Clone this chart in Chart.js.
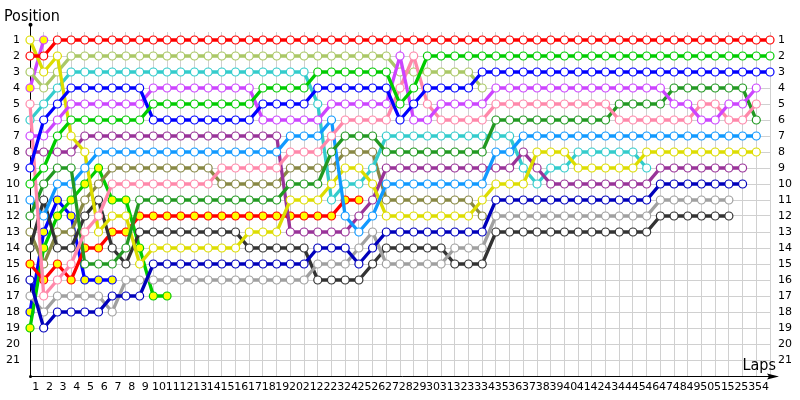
<!DOCTYPE html>
<html><head><meta charset="utf-8">
<script src="https://cdn.jsdelivr.net/npm/chart.js@4"></script>
<style>html,body{margin:0;padding:0;background:#fff}canvas{display:block}</style>
</head><body>
<canvas id="c" width="800" height="400"></canvas>
<script>
// ---- DATA ----
const lapLabels = ['', '1','2','3','4','5','6','7','8','9','10','11','12','13','14','15','16','17','18','19','20','21','22','23','24','25','26','27','28','29','30','31','32','33','34','35','36','37','38','39','40','41','42','43','44','45','46','47','48','49','50','51','52','53','54'];
const posTicks = [1,2,3,4,5,6,7,8,9,10,11,12,13,14,15,16,17,18,19,20,21];

const pRed      = [2,2,1,1,1,1,1,1,1,1, 1,1,1,1,1,1,1,1,1,1, 1,1,1,1,1,1,1,1,1,1, 1,1,1,1,1,1,1,1,1,1, 1,1,1,1,1,1,1,1,1,1, 1,1,1,1,1];
const pGreen    = [10,9,7,6,6,6,6,6,6,5, 5,5,5,5,5,5,5,4,4,4, 4,3,3,3,3,3,3,5,4,2, 2,2,2,2,2,2,2,2,2,2, 2,2,2,2,2,2,2,2,2,2, 2,2,2,2,2];
const pBlue     = [9,6,5,4,4,4,4,4,4,6, 6,6,6,6,6,6,6,5,5,5, 5,4,4,4,4,4,4,6,5,4, 4,4,4,3,3,3,3,3,3,3, 3,3,3,3,3,3,3,3,3,3, 3,3,3,3,3];
const pPurple   = [7,7,6,5,5,5,5,5,5,4, 4,4,4,4,4,4,4,6,6,6, 6,6,5,5,5,5,5,2,6,6, 5,5,5,5,4,4,4,4,4,4, 4,4,4,4,4,4,4,5,5,6, 6,5,5,4];
const pPink     = [5,17,16,15,13,12,10,10,10,10, 10,10,10,10,9,9,9,9,9,8, 8,8,7,6,6,6,6,4,2,5, 6,6,6,6,5,5,5,5,5,5, 5,5,5,6,6,6,6,6,6,5, 5,6,6,5];
const pDkGreen  = [12,10,9,9,15,15,15,14,11,11, 11,11,11,11,11,11,11,11,11,10, 10,10,8,7,7,7,8,8,8,8, 8,8,8,8,6,6,6,6,6,6, 6,6,6,5,5,5,5,4,4,4, 4,4,4,6];
const pLtBlue   = [11,12,10,10,9,8,8,8,8,8, 8,8,8,8,8,8,8,8,8,7, 7,7,6,12,13,12,10,10,10,10, 10,10,10,10,8,8,7,7,7,7, 7,7,7,7,7,7,7,7,7,7, 7,7,7,7];
const pYellow   = [1,3,2,7,8,13,12,12,15,14, 14,14,14,14,14,14,13,13,13,11, 11,11,10,9,9,10,12,12,12,12, 12,12,12,11,10,10,10,8,8,8, 9,9,9,9,9,8,8,8,8,8, 8,8,8,8];
const pDkPurple = [8,8,8,8,7,7,7,7,7,7, 7,7,7,7,7,7,7,7,7,13, 13,13,13,13,12,11,9,9,9,9, 9,9,9,9,9,9,8,9,10,10, 10,10,10,10,10,10,9,9,9,9, 9,9,9];
const pNavy     = [16,19,18,18,18,18,17,17,17,15, 15,15,15,15,15,15,15,15,15,15, 15,14,14,14,15,14,13,13,13,13, 13,13,13,13,11,11,11,11,11,11, 11,11,11,11,11,11,10,10,10,10, 10,10,10];
const pGray     = [17,18,17,17,17,17,18,16,16,16, 16,16,16,16,16,16,16,16,16,16, 16,15,15,15,14,13,15,15,15,15, 15,14,14,14,12,12,12,12,12,12, 12,12,12,12,12,12,11,11,11,11, 11,11];
const pDkGray   = [14,11,14,14,12,11,14,15,13,13, 13,13,13,13,13,13,14,14,14,14, 14,16,16,16,16,15,14,14,14,14, 14,15,15,15,13,13,13,13,13,13, 13,13,13,13,13,13,12,12,12,12, 12,12];
const pCyan     = [6,5,4,3,3,3,3,3,3,3, 3,3,3,3,3,3,3,3,3,3, 3,5,11,10,10,9,7,7,7,7, 7,7,7,7,7,7,9,10,9,9, 8,8,8,8,8,9];
const pLtOlive  = [3,4,3,2,2,2,2,2,2,2, 2,2,2,2,2,2,2,2,2,2, 2,2,2,2,2,2,2,3,3,3, 3,3,3,4];
const pOlive    = [13,15,13,13,11,10,9,9,9,9, 9,9,9,9,10,10,10,10,10,9, 9,9,9,8,8,8,11,11,11,11, 11,11,11,12];
const pRed2     = [15,16,15,16,14,14,13,13,12,12, 12,12,12,12,12,12,12,12,12,12, 12,12,12,11,11];
const pGreen2   = [19,14,12,11,10,9,11,11,14,17,17];
const pBlue2    = [18,13,11,12,16,16,16];
const pPurple2  = [4,1];

// ---- STYLES ----
const series = [
  [pRed, '#ff0000', '#ffffff'],
  [pGreen, '#00cc00', '#ffffff'],
  [pBlue, '#0000ff', '#ffffff'],
  [pPurple, '#cc44ff', '#ffffff'],
  [pPink, '#ff88aa', '#ffffff'],
  [pDkGreen, '#229922', '#ffffff'],
  [pLtBlue, '#1199ff', '#ffffff'],
  [pYellow, '#dddd00', '#ffffff'],
  [pDkPurple, '#993399', '#ffffff'],
  [pNavy, '#0000bb', '#ffffff'],
  [pGray, '#a0a0a0', '#ffffff'],
  [pDkGray, '#333333', '#ffffff'],
  [pCyan, '#33cccc', '#ffffff'],
  [pLtOlive, '#aac866', '#ffffff'],
  [pOlive, '#888844', '#ffffff'],
  [pRed2, '#ff0000', '#ffff00'],
  [pGreen2, '#00cc00', '#ffff00'],
  [pBlue2, '#0000ff', '#ffff00'],
  [pPurple2, '#cc44ff', '#ffff00']
];

const datasets = series.map(([d, c, f]) => ({
  data: d,
  borderColor: c,
  backgroundColor: c,
  borderWidth: 3.3,
  pointRadius: 4,
  pointBorderWidth: 1.2,
  pointBorderColor: c,
  pointBackgroundColor: f,
  tension: 0,
  fill: false
}));

const FONT = "'DejaVu Sans', Verdana, sans-serif";

const axesPlugin = {
  id: 'axesDecor',
  beforeDatasetsDraw(chart) {
    const {ctx, scales} = chart;
    const x = scales.x, y = scales.y;
    const x0 = Math.round(x.getPixelForValue(0)) + 0.5;
    const xEnd = x.getPixelForValue(54);
    const yTop = y.getPixelForValue(0.05);
    const yBot = Math.round(y.getPixelForValue(22)) + 0.5;
    ctx.save();
    ctx.strokeStyle = '#000';
    ctx.fillStyle = '#000';
    ctx.lineWidth = 1;
    ctx.beginPath();
    ctx.moveTo(x0, yTop); ctx.lineTo(x0, yBot);
    ctx.lineTo(xEnd + 4, yBot);
    ctx.stroke();
    ctx.beginPath(); ctx.arc(x0, yTop, 2, 0, Math.PI * 2); ctx.fill();
    ctx.beginPath(); ctx.arc(x0, yBot, 1.5, 0, Math.PI * 2); ctx.fill();
    ctx.beginPath();
    ctx.moveTo(xEnd + 9, yBot);
    ctx.lineTo(xEnd - 3, yBot - 3);
    ctx.lineTo(xEnd - 1, yBot);
    ctx.lineTo(xEnd - 3, yBot + 3);
    ctx.closePath(); ctx.fill();
    ctx.restore();
  },
  afterDraw(chart) {
    const {ctx} = chart;
    ctx.save();
    ctx.fillStyle = '#000';
    ctx.font = "16px 'DejaVu Sans Condensed', 'DejaVu Sans', sans-serif";
    ctx.textBaseline = 'alphabetic';
    ctx.textAlign = 'left';
    ctx.fillText('Position', 4, 21);
    ctx.textAlign = 'right';
    ctx.fillText('Laps', 776, 370);
    ctx.restore();
  }
};

const yCommon = {
  type: 'linear',
  reverse: true,
  min: 0.5,
  max: 22,
  afterBuildTicks: (s) => { s.ticks = posTicks.map(v => ({value: v})); },
  border: {display: false},
  ticks: {color: '#000', font: {family: FONT, size: 11}, autoSkip: false}
};

new Chart(document.getElementById('c'), {
  type: 'line',
  data: {labels: lapLabels, datasets},
  options: {
    responsive: false,
    animation: false,
    events: [],
    layout: {padding: {top: 32, left: 0, right: 0, bottom: 0}},
    plugins: {legend: {display: false}, tooltip: {enabled: false}},
    scales: {
      x: {
        type: 'category',
        offset: false,
        grid: {color: '#d0d0d0', lineWidth: 1, drawTicks: false},
        border: {display: false},
        ticks: {color: '#000', font: {family: FONT, size: 11}, autoSkip: false, maxRotation: 0, minRotation: 0, labelOffset: -8, padding: 5},
        afterFit: (s) => { s.height = 24; }
      },
      y: Object.assign({}, yCommon, {
        position: 'left',
        grid: {color: '#d0d0d0', lineWidth: 1, drawTicks: false},
        ticks: Object.assign({}, yCommon.ticks, {padding: 10}),
        afterFit: (s) => { s.width = 30; }
      }),
      y2: Object.assign({}, yCommon, {
        position: 'right',
        grid: {display: false, drawTicks: false},
        ticks: Object.assign({}, yCommon.ticks, {padding: 8}),
        afterFit: (s) => { s.width = 30; }
      })
    }
  },
  plugins: [axesPlugin]
});
</script>
</body></html>
